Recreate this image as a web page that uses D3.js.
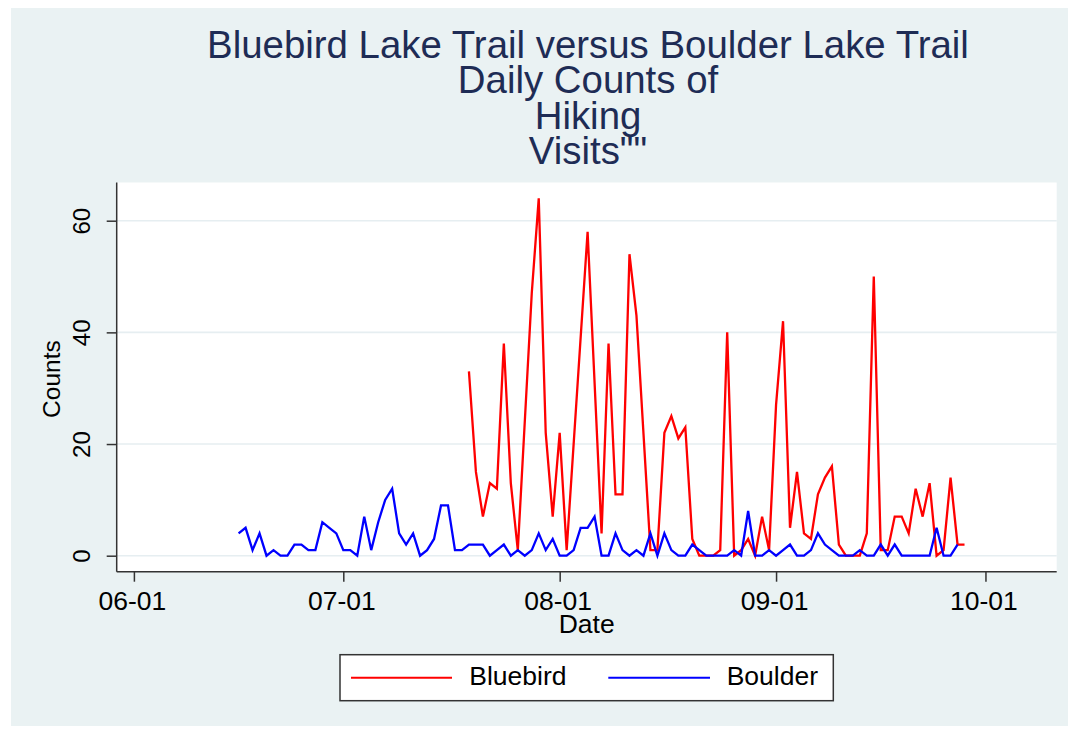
<!DOCTYPE html>
<html>
<head>
<meta charset="utf-8">
<script src="https://cdn.jsdelivr.net/npm/d3@7"></script>
<style>
  html, body { margin: 0; padding: 0; background: #ffffff; }
  svg { display: block; font-family: "Liberation Sans", Arial, Helvetica, sans-serif; }
</style>
</head>
<body>
<svg id="chart" width="1076" height="732"></svg>
<script>
// ---------------- Data ----------------
const titleLines = ["Bluebird Lake Trail versus Boulder Lake Trail", "Daily Counts of", "Hiking", "Visits\"\""];
const seriesNames = ["Bluebird", "Boulder"];
const seriesColors = ["#ff0000", "#0000ff"];

// Bluebird daily counts, starting 07-19 (null = no observation that day)
const bluebirdStart = "2019-07-19";
const bluebirdCounts = [
  33, 15, 7, 13, 12, 38, 13, 1, null, 47, 64, 22, 7,          // 07-19 .. 07-31
  22, 1, null, null, 58, null, 4, 38, 11, 11, 54, 43, null,   // 08-01 .. 08-13
  1, 1, 22, 25, 21, 23, 3, 0, 0, 0, 1, 40, 0, 1, 3, 0, 7, 1,  // 08-14 .. 08-31
  27, 42, 5, 15, 4, 3, 11, 14, 16, 2, 0, 0, 0, 4, 50, 1, 1,   // 09-01 .. 09-17
  7, 7, 4, 12, 7, 13, 0, 1, 14, 2, 2                          // 09-18 .. 09-28
];

// Boulder daily counts, starting 06-16
const boulderStart = "2019-06-16";
const boulderCounts = [
  4, 5, 1, 4, 0, 1, 0, 0, 2, 2, 1, 1, 6, 5, 4,                // 06-16 .. 06-30
  1, 1, 0, 7, 1, 6, 10, 12, 4, 2, 4, 0, 1, 3, 9, 9,           // 07-01 .. 07-16
  1, 1, 2, 2, 2, 0, 1, 2, 0, 1, 0, 1, 4, 1, 3,                // 07-17 .. 07-31
  0, 0, 1, 5, 5, 7, 0, 0, 4, 1, 0, 1, 0, 4, 0, 4,             // 08-01 .. 08-16
  1, 0, 0, 2, 1, 0, 0, 0, 0, 1, 0, 8, 0, 0, 1,                // 08-17 .. 08-31
  0, 1, 2, 0, 0, 1, 4, 2, 1, 0, 0, 0, 1, 0, 0, 2,             // 09-01 .. 09-16
  0, 2, 0, 0, 0, 0, 0, 5, 0, 0, 2                             // 09-17 .. 09-27
];

const xTickDates = ["2019-06-01", "2019-07-01", "2019-08-01", "2019-09-01", "2019-10-01"];
const xTickLabels = ["06-01", "07-01", "08-01", "09-01", "10-01"];
const yTicks = [0, 20, 40, 60];
const xTitle = "Date";
const yTitle = "Counts";

// ---------------- Helpers ----------------
const parse = d3.utcParse("%Y-%m-%d");
function toPoints(start, counts) {
  const s = parse(start);
  return counts.map((v, i) => ({ date: d3.utcDay.offset(s, i), value: v }));
}
const bluebird = toPoints(bluebirdStart, bluebirdCounts);
const boulder = toPoints(boulderStart, boulderCounts);

// ---------------- Layout ----------------
const svg = d3.select("#chart");
const plot = { left: 116.7, right: 1056.7, top: 182.5, bottom: 571.7 };

svg.append("rect").attr("x", 0).attr("y", 0).attr("width", 1076).attr("height", 732).attr("fill", "#ffffff");
svg.append("rect").attr("x", 11).attr("y", 8).attr("width", 1057).attr("height", 718).attr("fill", "#eaf2f3");
svg.append("rect")
  .attr("x", plot.left).attr("y", plot.top)
  .attr("width", plot.right - plot.left).attr("height", plot.bottom - plot.top)
  .attr("fill", "#ffffff");

// Scales
const x = d3.scaleUtc()
  .domain([parse("2019-06-01"), parse("2019-10-01")])
  .range([133.9, 133.9 + 122 * 6.98]);
const y = d3.scaleLinear().domain([0, 60]).range([555.7, 220.7]);

// Gridlines
svg.append("g").selectAll("line").data(yTicks).join("line")
  .attr("x1", plot.left).attr("x2", plot.right)
  .attr("y1", d => y(d)).attr("y2", d => y(d))
  .attr("stroke", "#e6eef1").attr("stroke-width", 1.6);

// Title
svg.append("g").selectAll("text").data(titleLines).join("text")
  .attr("x", 588).attr("y", (d, i) => 58 + i * 35.4)
  .attr("text-anchor", "middle")
  .attr("font-size", 38.4)
  .attr("fill", "#1e2c55")
  .text(d => d);

// Lines
const line = d3.line().x(d => x(d.date)).y(d => y(d.value));
[bluebird, boulder].forEach((s, i) => {
  svg.append("path")
    .datum(s.filter(d => d.value !== null))
    .attr("fill", "none")
    .attr("stroke", seriesColors[i])
    .attr("stroke-width", 2.3)
    .attr("stroke-linejoin", "miter")
    .attr("d", line);
});

// Y axis
const yAxis = svg.append("g")
  .attr("transform", `translate(${plot.left},0)`)
  .call(d3.axisLeft(y).tickValues(yTicks).tickSize(10).tickFormat(d3.format("d")));
yAxis.select(".domain").attr("d", `M0,${plot.top}V${plot.bottom}`).attr("stroke", "#333").attr("stroke-width", 1.5);
yAxis.selectAll(".tick line").attr("stroke", "#333").attr("stroke-width", 1.5);
yAxis.selectAll(".tick text")
  .attr("x", null).attr("dy", null)
  .attr("y", 0)
  .attr("transform", "translate(-26.5,0) rotate(-90)")
  .attr("text-anchor", "middle")
  .attr("font-size", 24)
  .attr("font-family", "Liberation Sans, Arial, sans-serif")
  .attr("fill", "#000");

// X axis
const xAxis = svg.append("g")
  .attr("transform", `translate(0,${plot.bottom})`)
  .call(d3.axisBottom(x).tickValues(xTickDates.map(parse)).tickSize(10)
    .tickFormat((d, i) => xTickLabels[i]));
xAxis.select(".domain").attr("d", `M${plot.left},0H${plot.right}`).attr("stroke", "#333").attr("stroke-width", 1.5);
xAxis.selectAll(".tick line").attr("stroke", "#333").attr("stroke-width", 1.5);
xAxis.selectAll(".tick text")
  .attr("dy", null).attr("y", 38.5)
  .attr("x", -2)
  .attr("font-size", 26.5)
  .attr("font-family", "Liberation Sans, Arial, sans-serif")
  .attr("fill", "#000");

// Axis titles
svg.append("text")
  .attr("x", (plot.left + plot.right) / 2).attr("y", 633)
  .attr("text-anchor", "middle").attr("font-size", 26.5).attr("fill", "#000")
  .text(xTitle);
svg.append("text")
  .attr("transform", `translate(60,${(plot.top + plot.bottom) / 2 + 2}) rotate(-90)`)
  .attr("text-anchor", "middle").attr("font-size", 24.5).attr("fill", "#000")
  .text(yTitle);

// Legend
const legend = svg.append("g");
legend.append("rect")
  .attr("x", 340).attr("y", 654.7).attr("width", 493.3).attr("height", 46)
  .attr("fill", "#ffffff").attr("stroke", "#333").attr("stroke-width", 1.5);
const legendItems = [
  { x1: 351, x2: 452, tx: 469.3 },
  { x1: 608.3, x2: 710, tx: 726.7 }
];
legendItems.forEach((it, i) => {
  legend.append("line")
    .attr("x1", it.x1).attr("x2", it.x2).attr("y1", 677.7).attr("y2", 677.7)
    .attr("stroke", seriesColors[i]).attr("stroke-width", 2);
  legend.append("text")
    .attr("x", it.tx).attr("y", 684.5)
    .attr("font-size", 26.5).attr("fill", "#000")
    .text(seriesNames[i]);
});
</script>
</body>
</html>
